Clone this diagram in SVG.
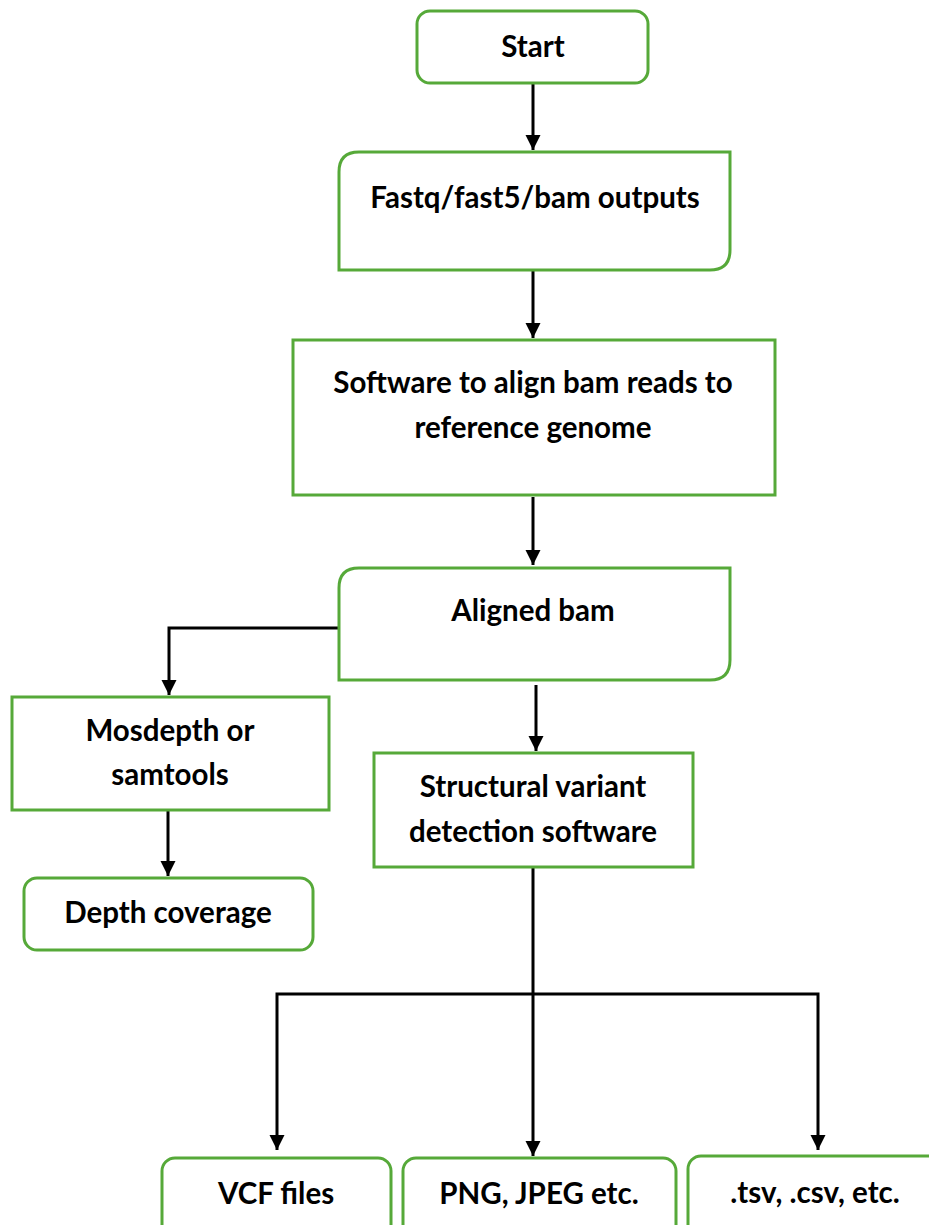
<svg xmlns="http://www.w3.org/2000/svg" width="929" height="1225" viewBox="0 0 929 1225">
<style>
.box{fill:#fff;stroke:#56A939;stroke-width:3}
.t{font-family:Lato,"Liberation Sans",sans-serif;font-weight:bold;font-size:29.5px;fill:#000;text-anchor:middle}
.c{fill:none;stroke:#000;stroke-width:3}
</style>
<defs>
<marker id="ah" markerUnits="userSpaceOnUse" markerWidth="16" markerHeight="16" viewBox="0 0 16 16" refX="15" refY="8" orient="auto">
<path d="M0,0.5 L15,8 L0,15.5 Z" fill="#000"/>
</marker>
</defs>
<rect width="929" height="1225" fill="#fff"/>
<g id="connectors">
<line class="c" x1="533" y1="84" x2="533" y2="150" marker-end="url(#ah)"/>
<line class="c" x1="533" y1="271" x2="533" y2="338" marker-end="url(#ah)"/>
<line class="c" x1="533" y1="497" x2="533" y2="565" marker-end="url(#ah)"/>
<polyline class="c" points="339,628 169,628 169,695" marker-end="url(#ah)"/>
<line class="c" x1="536" y1="685" x2="536" y2="751" marker-end="url(#ah)"/>
<line class="c" x1="168" y1="811" x2="168" y2="876" marker-end="url(#ah)"/>
<line class="c" x1="533" y1="868" x2="533" y2="1156" marker-end="url(#ah)"/>
<polyline class="c" points="533,994 277,994 277,1150" marker-end="url(#ah)"/>
<polyline class="c" points="533,994 818,994 818,1150" marker-end="url(#ah)"/>
</g>
<g id="start">
<rect class="box" x="417" y="11" width="231" height="72" rx="13"/>
<text class="t" x="533" y="57">Start</text>
</g>
<g id="fastq">
<path class="box" d="M339,270 L339,172 Q339,152 359,152 L730,152 L730,250 Q730,270 710,270 Z"/>
<text class="t" x="535" y="208">Fastq/fast5/bam outputs</text>
</g>
<g id="software">
<rect class="box" x="293" y="340" width="482" height="155"/>
<text class="t" x="533" y="393">Software to align bam reads to</text>
<text class="t" x="533" y="438">reference genome</text>
</g>
<g id="aligned">
<path class="box" d="M339,680 L339,588 Q339,568 359,568 L730,568 L730,660 Q730,680 710,680 Z"/>
<text class="t" x="533" y="621">Aligned bam</text>
</g>
<g id="mosdepth">
<rect class="box" x="12" y="697" width="317" height="113"/>
<text class="t" x="170" y="741">Mosdepth or</text>
<text class="t" x="170" y="785">samtools</text>
</g>
<g id="depth">
<rect class="box" x="24" y="878" width="289" height="72" rx="13"/>
<text class="t" x="168" y="923">Depth coverage</text>
</g>
<g id="structural">
<rect class="box" x="374" y="753" width="319" height="114"/>
<text class="t" x="533" y="797">Structural variant</text>
<text class="t" x="533" y="842">detection software</text>
</g>
<g id="vcf">
<rect class="box" x="162" y="1158" width="229" height="80" rx="13"/>
<text class="t" x="276" y="1204">VCF files</text>
</g>
<g id="png">
<rect class="box" x="403" y="1158" width="273" height="80" rx="13"/>
<text class="t" x="539" y="1204">PNG, JPEG etc.</text>
</g>
<g id="tsv">
<rect class="box" x="688" y="1156" width="255" height="82" rx="13"/>
<text class="t" x="815" y="1203">.tsv, .csv, etc.</text>
</g>
</svg>
